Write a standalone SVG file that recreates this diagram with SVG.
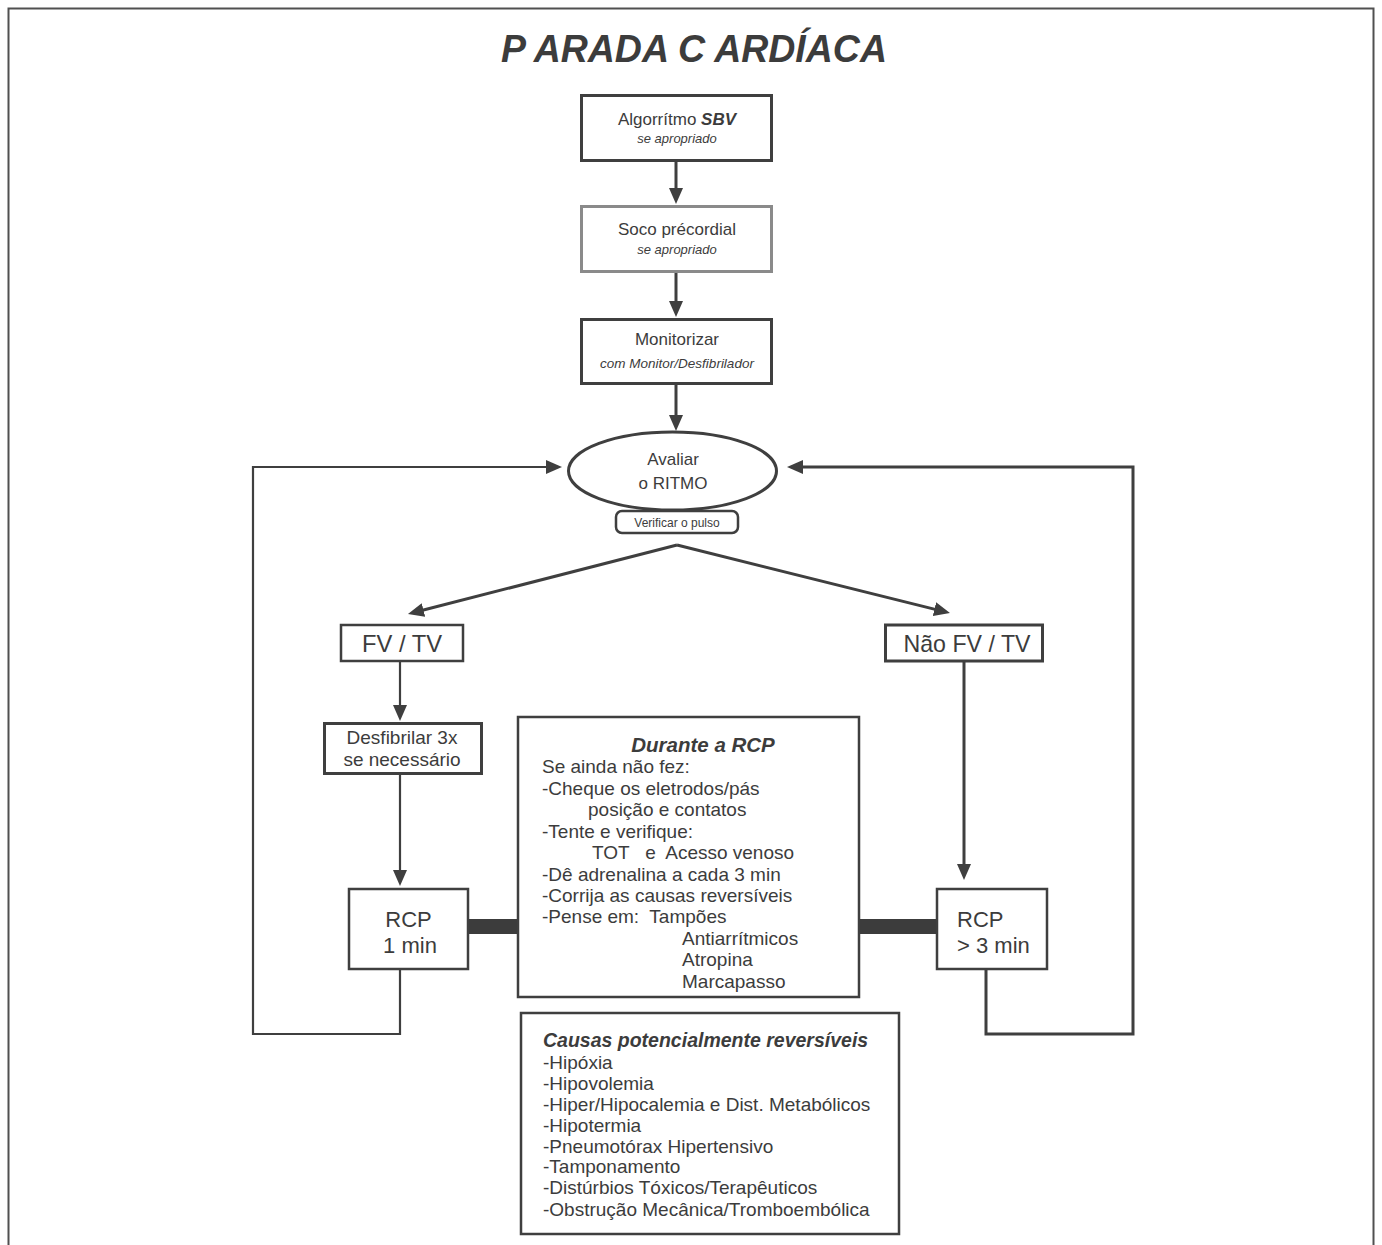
<svg xmlns="http://www.w3.org/2000/svg" width="1382" height="1245" viewBox="0 0 1382 1245">
<style>
text{font-family:"Liberation Sans",Arial,sans-serif;fill:#3c3c3c}
.box{fill:#fff;stroke:#3f3f3f;stroke-width:3}
.thin{fill:#fff;stroke:#3f3f3f;stroke-width:2.5}
.c{text-anchor:middle}
.it{font-style:italic}
.bi{font-style:italic;font-weight:bold}
.con{fill:none;stroke:#3f3f3f;stroke-linejoin:miter}
.w3{stroke-width:3}
.w2{stroke-width:2.2}
.bar{fill:#3c3c3c}
.pre{white-space:pre}
</style>
<defs>
<marker id="ah" viewBox="0 0 16 14" markerWidth="16" markerHeight="14" markerUnits="userSpaceOnUse" refX="8" refY="7" orient="auto">
<path d="M0,0 L16,7 L0,14 z" fill="#3f3f3f"/>
</marker>
</defs>
<rect x="8.5" y="8.5" width="1365" height="1260" fill="#fff" stroke="#505050" stroke-width="2"/>
<text id="title" x="694" y="62" class="c bi" font-size="39" textLength="386" lengthAdjust="spacingAndGlyphs">P ARADA C ARDÍACA</text>

<g id="connectors">
<line class="con w3" x1="676" y1="162" x2="676" y2="196" marker-end="url(#ah)"/>
<line class="con w3" x1="676" y1="273" x2="676" y2="309" marker-end="url(#ah)"/>
<line class="con w3" x1="676" y1="385" x2="676" y2="423" marker-end="url(#ah)"/>
<line class="con w3" x1="677" y1="545" x2="415.7" y2="612" marker-end="url(#ah)"/>
<line class="con w3" x1="677" y1="545" x2="942.2" y2="611.1" marker-end="url(#ah)"/>
<line class="con w2" x1="400" y1="661" x2="400" y2="713" marker-end="url(#ah)"/>
<line class="con w2" x1="400" y1="775" x2="400" y2="878" marker-end="url(#ah)"/>
<line class="con w3" x1="964" y1="661" x2="964" y2="872" marker-end="url(#ah)"/>
<path class="con w2" d="M400,970 V1034 H253 V467 H554" marker-end="url(#ah)"/>
<path class="con w3" d="M986,970 V1034 H1133 V467 H795" marker-end="url(#ah)"/>
<rect class="bar" x="469" y="919" width="49" height="15"/>
<rect class="bar" x="859" y="919" width="78" height="15"/>
</g>

<g id="sbv">
<rect class="box" x="581.5" y="95.5" width="190" height="65"/>
<text x="677" y="125" class="c" font-size="17">Algorrítmo <tspan class="bi">SBV</tspan></text>
<text x="677" y="143" class="c it" font-size="13">se apropriado</text>
</g>
<g id="soco">
<rect class="box" x="581.5" y="206.5" width="190" height="65" style="stroke:#8a8a8a"/>
<text x="677" y="235" class="c" font-size="17">Soco précordial</text>
<text x="677" y="254" class="c it" font-size="13">se apropriado</text>
</g>
<g id="monitorizar">
<rect class="box" x="581.5" y="319.5" width="190" height="64"/>
<text x="677" y="345" class="c" font-size="17">Monitorizar</text>
<text x="677" y="368" class="c it" font-size="13.5">com Monitor/Desfibrilador</text>
</g>
<g id="avaliar">
<ellipse cx="672.5" cy="471" rx="104" ry="39" fill="#fff" stroke="#3f3f3f" stroke-width="3"/>
<text x="673" y="465" class="c" font-size="17">Avaliar</text>
<text x="673" y="489" class="c" font-size="17">o RITMO</text>
</g>
<g id="pulso">
<rect class="thin" x="616" y="511" width="122" height="22" rx="6"/>
<text x="677" y="527" class="c" font-size="12">Verificar o pulso</text>
</g>
<g id="fvtv">
<rect class="thin" x="341" y="625" width="122" height="36"/>
<text x="402" y="652" class="c" font-size="24" textLength="80" lengthAdjust="spacingAndGlyphs">FV / TV</text>
</g>
<g id="naofvtv">
<rect class="box" x="885.5" y="625" width="157" height="36"/>
<text x="967" y="652" class="c" font-size="24" textLength="127" lengthAdjust="spacingAndGlyphs">Não FV / TV</text>
</g>
<g id="desfibrilar">
<rect class="box" x="324.5" y="723.5" width="157" height="50"/>
<text x="402" y="744" class="c" font-size="19">Desfibrilar 3x</text>
<text x="402" y="766" class="c" font-size="19">se necessário</text>
</g>
<g id="rcp1">
<rect class="thin" x="349" y="889" width="119" height="80"/>
<text x="408.5" y="927" class="c" font-size="22">RCP</text>
<text x="410" y="953" class="c" font-size="22">1 min</text>
</g>
<g id="rcp3">
<rect class="thin" x="937" y="889" width="110" height="80"/>
<text x="957" y="927" font-size="22">RCP</text>
<text x="957" y="953" font-size="22">&gt; 3 min</text>
</g>
<g id="durante">
<rect class="thin" x="518" y="717" width="341" height="280"/>
<text x="703" y="752" class="c bi" font-size="20.5">Durante a RCP</text>
<text font-size="19" class="pre" xml:space="preserve"><tspan x="542" y="773">Se ainda não fez:</tspan><tspan x="542" y="795">-Cheque os eletrodos/pás</tspan><tspan x="588" y="816">posição e contatos</tspan><tspan x="542" y="838">-Tente e verifique:</tspan><tspan x="592" y="859">TOT   e  Acesso venoso</tspan><tspan x="542" y="881">-Dê adrenalina a cada 3 min</tspan><tspan x="542" y="902">-Corrija as causas reversíveis</tspan><tspan x="542" y="923">-Pense em:  Tampões</tspan><tspan x="682" y="945">Antiarrítmicos</tspan><tspan x="682" y="966">Atropina</tspan><tspan x="682" y="988">Marcapasso</tspan></text>
</g>
<g id="causas">
<rect class="thin" x="521" y="1013" width="378" height="221"/>
<text x="543" y="1047" class="bi" font-size="19.5">Causas potencialmente reversíveis</text>
<text font-size="19">
<tspan x="543" y="1069">-Hipóxia</tspan>
<tspan x="543" y="1090">-Hipovolemia</tspan>
<tspan x="543" y="1111">-Hiper/Hipocalemia e Dist. Metabólicos</tspan>
<tspan x="543" y="1132">-Hipotermia</tspan>
<tspan x="543" y="1153">-Pneumotórax Hipertensivo</tspan>
<tspan x="543" y="1173">-Tamponamento</tspan>
<tspan x="543" y="1194">-Distúrbios Tóxicos/Terapêuticos</tspan>
<tspan x="543" y="1216">-Obstrução Mecânica/Tromboembólica</tspan>
</text>
</g>
</svg>
